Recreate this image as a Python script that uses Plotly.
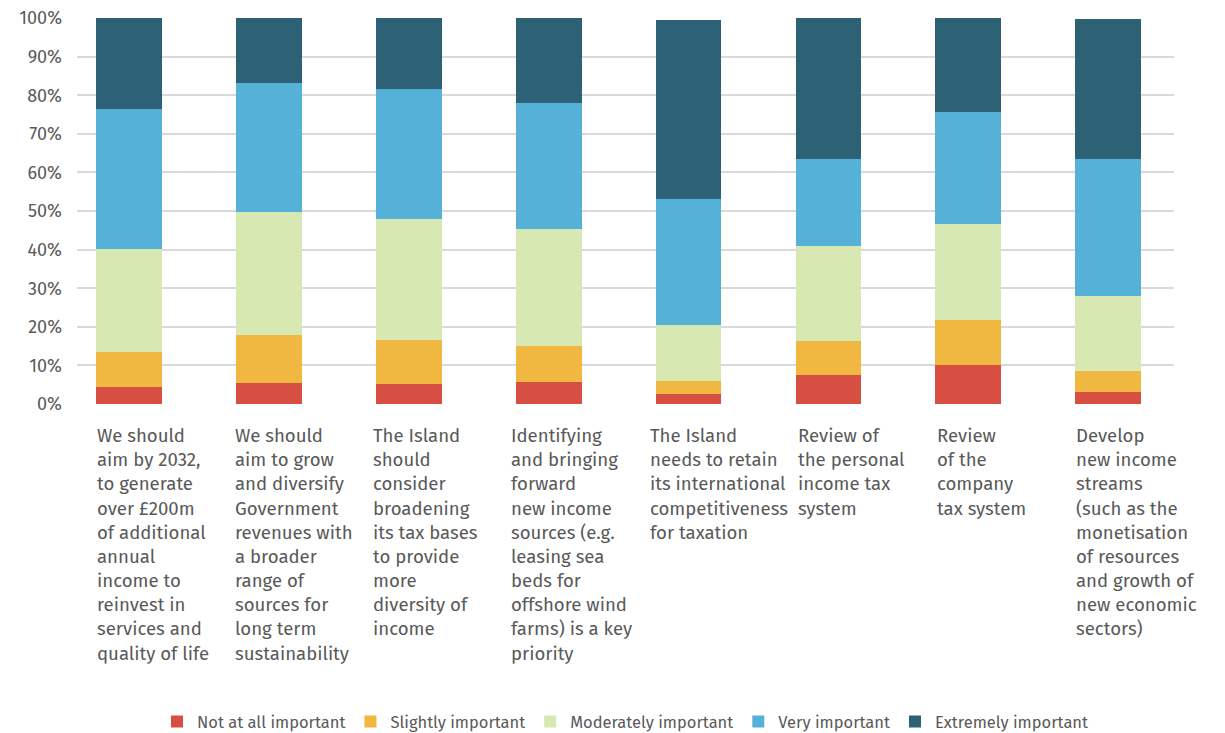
import plotly.graph_objects as go

categories = [
    "We should<br>aim by 2032,<br>to generate<br>over £200m<br>of additional<br>annual<br>income to<br>reinvest in<br>services and<br>quality of life",
    "We should<br>aim to grow<br>and diversify<br>Government<br>revenues with<br>a broader<br>range of<br>sources for<br>long term<br>sustainability",
    "The Island<br>should<br>consider<br>broadening<br>its tax bases<br>to provide<br>more<br>diversity of<br>income",
    "Identifying<br>and bringing<br>forward<br>new income<br>sources (e.g.<br>leasing sea<br>beds for<br>offshore wind<br>farms) is a key<br>priority",
    "The Island<br>needs to retain<br>its international<br>competitiveness<br>for taxation",
    "Review of<br>the personal<br>income tax<br>system",
    "Review<br>of the<br>company<br>tax system",
    "Develop<br>new income<br>streams<br>(such as the<br>monetisation<br>of resources<br>and growth of<br>new economic<br>sectors)",
]

series_names = ["Not at all important", "Slightly important", "Moderately important",
                "Very important", "Extremely important"]
not_at_all = [4.3, 5.4, 5.1, 5.6, 2.5, 7.4, 10.0, 3.0]
slightly = [9.1, 12.4, 11.4, 9.4, 3.4, 8.8, 11.7, 5.5]
moderately = [26.7, 31.9, 31.4, 30.3, 14.5, 24.7, 24.9, 19.4]
very = [36.3, 33.4, 33.7, 32.7, 32.7, 22.5, 29.0, 35.5]
extremely = [23.6, 16.9, 18.4, 22.0, 46.4, 36.6, 24.4, 36.3]
colors = ["#D64F42", "#F0B841", "#D7E8B2", "#56B1D8", "#2D6175"]

ytick_vals = [0, 10, 20, 30, 40, 50, 60, 70, 80, 90, 100]
ytick_text = ["0%", "10%", "20%", "30%", "40%", "50%", "60%", "70%", "80%", "90%", "100%"]

FONT = "Fira Sans, Lato, sans-serif"
TXT = "#595959"

# small per-label horizontal nudges (pixels) to follow the reference's label placement
label_nudge = [0, -2, -4, -6, -7, 2, 1, 0]

xpos = list(range(len(categories)))
fig = go.Figure()
for name, vals, col in zip(series_names, [not_at_all, slightly, moderately, very, extremely], colors):
    fig.add_trace(go.Bar(x=xpos, y=vals, name=name, marker=dict(color=col, line=dict(width=0)),
                         width=0.47))

for i, lab in enumerate(categories):
    fig.add_annotation(x=i, y=0, xref="x", yref="paper", text=lab, showarrow=False,
                       xanchor="left", yanchor="top", align="left",
                       xshift=-34 + label_nudge[i], yshift=-19,
                       font=dict(family=FONT, size=18.6, color=TXT))

fig.update_layout(
    barmode="stack",
    width=1225, height=733,
    margin=dict(l=77, r=51, t=18, b=329, autoexpand=False),
    paper_bgcolor="white", plot_bgcolor="white",
    font=dict(family=FONT, color=TXT),
    legend=dict(orientation="h", x=0.5, xanchor="center", y=-0.823, yanchor="middle",
                font=dict(family=FONT, size=16.5, color=TXT), traceorder="normal",
                itemwidth=30),
    xaxis=dict(range=[-0.372, 7.47], showticklabels=False, showgrid=False, zeroline=False,
               showline=False, ticks=""),
    yaxis=dict(range=[0, 100], tickvals=ytick_vals, ticktext=ytick_text, showgrid=True,
               gridcolor="#D9D9D9", gridwidth=1.5, zeroline=False, showline=False,
               tickfont=dict(family=FONT, size=18, color=TXT), ticklabelstandoff=14),
)
fig.write_html("out.html", config={"displayModeBar": False},
               post_script="document.body.style.margin='0';document.body.style.overflow='hidden';")
